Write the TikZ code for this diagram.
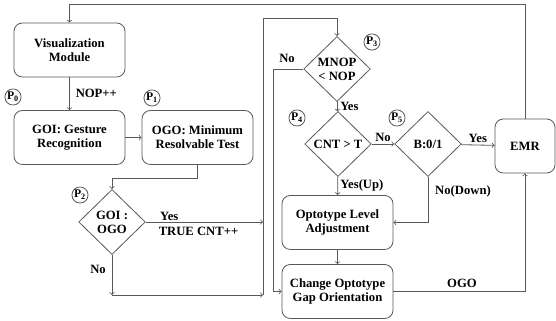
\documentclass[tikz,border=0pt]{standalone}
\usepackage{fontspec}
\setmainfont{Liberation Serif}
\usetikzlibrary{shapes.geometric}

\begin{document}
\begin{tikzpicture}[x=0.03cm,y=-0.03cm,
	every node/.style={font=\bfseries\fontsize{10.8}{12}\selectfont},
	line/.style={draw=black!65,line width=0.7pt},
	arr/.style={line,->},
	box/.style={line,rounded corners=0.25cm,align=center,minimum width=3.33cm,minimum height=1.62cm,inner sep=1pt},
	dia/.style={line,diamond,align=center,minimum width=2cm,minimum height=1.95cm,inner sep=-1pt},
	pcirc/.style={line,circle,inner sep=0.3pt,minimum size=0.45cm,font=\bfseries\fontsize{10}{10}\selectfont},
	lab/.style={inner sep=1pt}]

	\useasboundingbox (0,0) rectangle (556,321);

	% Boxes
	\node[box] (vis) at (69.5,50) {Visualization\\Module};
	\node[box] (goi) at (69.5,137.5) {GOI: Gesture\\Recognition};
	\node[box] (ogo) at (197.5,137.5) {OGO: Minimum\\Resolvable Test};
	\node[box] (adj) at (337.5,222.5) {Optotype Level\\Adjustment};
	\node[box] (chg) at (337.5,291.5) {Change Optotype\\Gap Orientation};
	\node[box,minimum width=1.8cm] (emr) at (525,146) {EMR};

	% Decisions
	\node[dia] (dec) at (112,222) {GOI :\\OGO};
	\node[dia] (mnop) at (337,69) {MNOP\\< NOP};
	\node[dia] (cnt) at (338,144) {CNT > T};
	\node[dia] (bit) at (428,144) {B:0/1};

	% Points
	\foreach \i/\x/\y in {0/13/97,1/152/98,2/80/195,3/372/42,4/297/118,5/397/118}
		\node[pcirc] (p\i) at (\x,\y) {P\textsubscript{\i}};

	% Helpers
	\coordinate (top) at (0,4);
	\coordinate (j1) at (0,178);
	\coordinate (low) at (0,295);
	\coordinate (busA) at (263,18);
	\coordinate (busB) at (273,0);

	% Left part
	\draw[arr] (emr.north) -- (emr.north |- top) -| (vis.north);
	\draw[arr] (vis) -- (goi) node[lab,midway,right=4pt] {NOP++};
	\draw[arr] (goi) -- (ogo);
	\draw[arr] (ogo.south) -- (ogo.south |- j1) -| (dec.north);
	\draw[arr] (dec.east) -- (dec.east -| busA) node[lab,pos=0.2,above] {Yes} node[lab,pos=0.45,below=3pt] {TRUE CNT++};
	\draw[arr] (dec.south) -- (dec.south |- low) node[lab,pos=0.35,left=4pt] {No};
	\draw[arr] (low -| dec.south) -- (low -| busA);
	\draw[arr] (low -| busA) -- (busA) -| (mnop.north);

	% Right part
	\draw[arr] (mnop.west) -- (mnop.west -| busB) -- (busB |- chg.west) -- (chg.west);
	\node[lab] (no1) at (287,58) {No};
	\draw[arr] (mnop) -- (cnt) node[lab,midway,right=1pt] {Yes};
	\draw[arr] (cnt) -- (bit) node[lab,midway,above=1pt] {No};
	\draw[arr] (bit) -- (emr) node[lab,midway,above=1pt] {Yes};
	\draw[arr] (cnt) -- (adj) node[lab,midway,right=1pt] {Yes(Up)};
	\draw[arr] (bit.south) |- (adj.east);
	\node[lab] (no2) at (463,191) {No(Down)};
	\draw[arr] (adj) -- (chg);
	\draw[arr] (chg.east) -| (emr.south);
	\node[lab] (ogol) at (462,283) {OGO};
\end{tikzpicture}
\end{document}
